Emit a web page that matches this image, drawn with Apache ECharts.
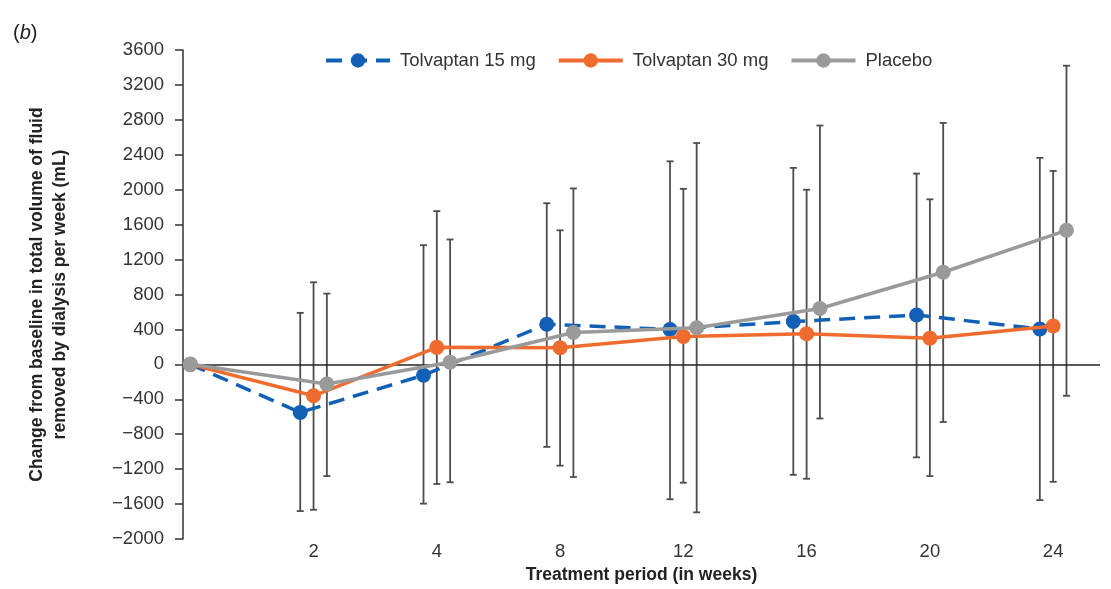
<!DOCTYPE html>
<html>
<head>
<meta charset="utf-8">
<script src="https://cdn.jsdelivr.net/npm/echarts@6/dist/echarts.min.js"></script>
<style>
  html, body { margin: 0; padding: 0; background: #ffffff; }
  #chart { width: 1111px; height: 589px; }
</style>
</head>
<body>
<div id="chart"></div>
<script>
// ---- data ----
const weeks = ['0', '2', '4', '8', '12', '16', '20', '24'];
const seriesNames = ['Tolvaptan 15 mg', 'Tolvaptan 30 mg', 'Placebo'];

const tol15     = [0, -550, -125,  460,   400,   490,   565,   405];
const tol15Low  = [0, -1680, -1595, -945, -1545, -1265, -1065, -1555];
const tol15High = [0,  590,  1365, 1845,  2325,  2250,  2185,  2365];

const tol30     = [0, -360,  195,  190,   320,   350,   300,   440];
const tol30Low  = [0, -1665, -1370, -1160, -1355, -1310, -1280, -1345];
const tol30High = [0,  940,  1755, 1535,  2010,  2000,  1890,  2215];

const placebo     = [0, -225,   25,   365,   420,   640,  1055,  1535];
const placeboLow  = [0, -1280, -1350, -1290, -1695, -620,  -660,  -360];
const placeboHigh = [0,  810,  1430,  2015,  2535,  2735,  2765,  3420];

const yTicks = { min: -2000, max: 3600, step: 400 };

// ---- presentation ----
const FONT = "'Liberation Sans', Arial, sans-serif";
const COLORS = ['#1160B5', '#F06C2E', '#9A9A9A'];
const DODGE = [-0.108, 0, 0.108];   // horizontal dodge per series (axis units)
const labelIdx = weeks.map((w, i) => i).slice(1);

function pts(vals, s) {
  return vals.map((v, i) => [i === 0 ? 0 : i + DODGE[s], v]);
}
function errs(lo, hi, s) {
  const out = [];
  for (let i = 1; i < weeks.length; i++) out.push([i + DODGE[s], lo[i], hi[i]]);
  return out;
}
function renderErr(params, api) {
  const x = api.value(0);
  const top = api.coord([x, api.value(2)]);
  const bot = api.coord([x, api.value(1)]);
  const cw = 3.5;
  const st = { stroke: '#4d4d4d', lineWidth: 1.8 };
  return {
    type: 'group',
    children: [
      { type: 'line', shape: { x1: top[0], y1: top[1], x2: bot[0], y2: bot[1] }, style: st },
      { type: 'line', shape: { x1: top[0] - cw, y1: top[1], x2: top[0] + cw, y2: top[1] }, style: st },
      { type: 'line', shape: { x1: bot[0] - cw, y1: bot[1], x2: bot[0] + cw, y2: bot[1] }, style: st }
    ]
  };
}

const mainVals = [tol15, tol30, placebo];
const lows = [tol15Low, tol30Low, placeboLow];
const highs = [tol15High, tol30High, placeboHigh];

const series = [];
for (let s = 0; s < 3; s++) {
  series.push({
    name: seriesNames[s] + ' err',
    type: 'custom',
    z: 1,
    silent: true,
    renderItem: renderErr,
    encode: { x: 0, y: [1, 2] },
    data: errs(lows[s], highs[s], s)
  });
}
for (let s = 0; s < 3; s++) {
  series.push({
    name: seriesNames[s],
    type: 'line',
    z: 3 + s,
    data: pts(mainVals[s], s),
    symbol: 'circle',
    symbolSize: 15,
    showSymbol: true,
    color: COLORS[s],
    itemStyle: { color: COLORS[s] },
    lineStyle: { color: COLORS[s], width: 3.5, type: s === 0 ? [16, 9] : 'solid' },
    animation: false,
    markLine: s === 0 ? {
      silent: true,
      symbol: 'none',
      label: { show: false },
      lineStyle: { color: '#222', width: 1.5, type: 'solid' },
      data: [{ yAxis: 0 }],
      z: 2
    } : undefined
  });
}

const chart = echarts.init(document.getElementById('chart'), null, { renderer: 'canvas' });
chart.setOption({
  animation: false,
  backgroundColor: '#ffffff',
  textStyle: { fontFamily: FONT },
  title: {
    text: '({i|b})',
    left: 8,
    top: 18,
    textStyle: {
      fontFamily: FONT, fontSize: 20, fontWeight: 'normal', color: '#222',
      rich: { i: { fontStyle: 'italic', fontSize: 20, fontFamily: FONT, color: '#222' } }
    }
  },
  legend: {
    data: seriesNames,
    left: 319,
    top: 46,
    itemWidth: 64,
    itemHeight: 18,
    itemGap: 21,
    lineStyle: { width: 4 },
    textStyle: { fontFamily: FONT, fontSize: 18.5, color: '#333', padding: [0, 0, 0, 5] }
  },
  grid: { left: 183, top: 50, right: 11, bottom: 44, containLabel: false },
  xAxis: {
    type: 'value',
    min: -0.059,
    max: 7.38,
    axisLine: { show: false },
    axisTick: { show: false },
    splitLine: { show: false },
    axisLabel: {
      customValues: labelIdx,
      formatter: (v) => weeks[Math.round(v)],
      fontFamily: FONT, fontSize: 18.5, color: '#333', margin: 3
    },
    name: 'Treatment period (in weeks)',
    nameLocation: 'middle',
    nameGap: 27,
    nameTextStyle: { fontFamily: FONT, fontSize: 17.5, fontWeight: 'bold', color: '#222' }
  },
  yAxis: {
    type: 'value',
    min: yTicks.min,
    max: yTicks.max,
    interval: yTicks.step,
    axisLine: { show: true, onZero: false, lineStyle: { color: '#333', width: 1.5 } },
    axisTick: { show: true, length: 8, lineStyle: { color: '#333', width: 1.5 } },
    splitLine: { show: false },
    axisLabel: {
      fontFamily: FONT, fontSize: 18.5, color: '#333', margin: 19,
      formatter: (v) => (v < 0 ? '\u2212' + Math.abs(v) : String(v))
    },
    name: 'Change from baseline in total volume of fluid\nremoved by dialysis per week (mL)',
    nameLocation: 'middle',
    nameGap: 111,
    nameTextStyle: { fontFamily: FONT, fontSize: 17.5, fontWeight: 'bold', color: '#222', lineHeight: 23 }
  },
  series: series
});
</script>
</body>
</html>
